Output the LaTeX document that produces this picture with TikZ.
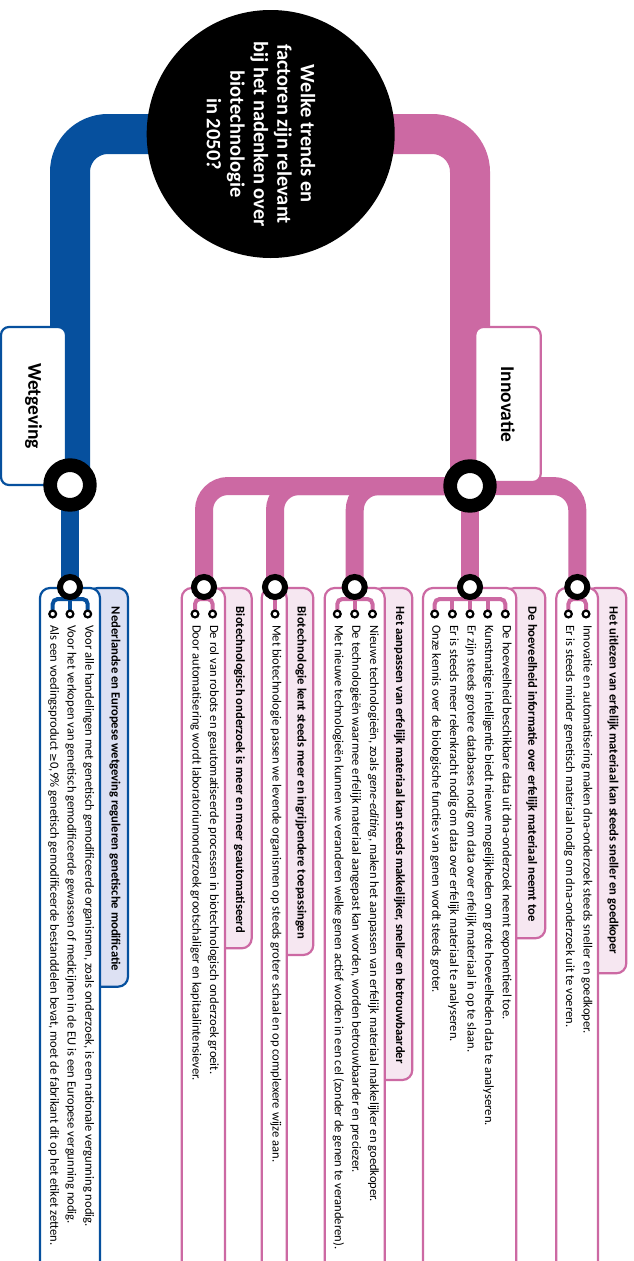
\documentclass[tikz,border=0pt]{standalone}
\usepackage{fontspec}
\setmainfont{Carlito}
\newfontfamily\symfont{DejaVu Sans}
\definecolor{pk}{HTML}{CC69A3}
\definecolor{bl}{HTML}{06509E}
\definecolor{pkfill}{HTML}{F6E7F1}
\definecolor{blfill}{HTML}{DDE1F3}
\pgfdeclarelayer{bg}
\pgfdeclarelayer{pipe}
\pgfdeclarelayer{box}
\pgfdeclarelayer{brk}
\pgfsetlayers{bg,pipe,box,brk,main}
\begin{document}
\begin{tikzpicture}[x=1pt,y=1pt,
  mainpipe/.style={line width=40pt, rounded corners=38pt},
  subpipe/.style={line width=18pt, rounded corners=24pt},
  bigring/.style={circle, draw=black, line width=13.7pt, fill=white, minimum size=39.7pt, inner sep=0pt},
  grpring/.style={circle, draw=black, line width=6pt, fill=white, minimum size=20pt, inner sep=0pt},
  bul/.style={circle, draw=black, line width=2.2pt, fill=white, minimum size=6.8pt, inner sep=0pt},
  brkline/.style={line width=4pt, rounded corners=5pt},
  itemtxt/.style={rotate=-90, anchor=mid west, inner sep=0pt, font=\fontsize{12.6}{15}\selectfont},
  headtxt/.style={rotate=-90, anchor=mid west, inner sep=0pt, font=\bfseries\fontsize{12.6}{15}\selectfont},
  hbox/.style={line width=2.2pt, rounded corners=10pt},
  wbox/.style={line width=2.2pt, rounded corners=10pt, fill=white},
  catbox/.style={rotate=-90, line width=2.2pt, fill=white, rounded corners=8pt, inner sep=0pt, font=\bfseries\fontsize{19.5}{22}\selectfont}
]
\useasboundingbox (0,0) rectangle (633,-1261);
\begin{pgfonlayer}{bg}
\fill[white] (0,0) rectangle (633,-1261);
\end{pgfonlayer}

% central question
\node[circle, fill=black, minimum size=248pt, inner sep=0pt] (q) at (270.7,-134) {};
\node[rotate=-90, text=white, align=center, inner sep=0pt,
      font=\bfseries\fontsize{20.5}{23.5}\selectfont] (qt) at (261,-134)
  {Welke trends en\\factoren zijn relevant\\bij het nadenken over\\biotechnologie\\in 2050?};

% category labels
\node[catbox, draw=bl, minimum width=158pt, minimum height=65pt] (wet) at (33.5,-406) {Wetgeving};
\node[catbox, draw=pk, minimum width=155pt, minimum height=65.4pt] (inn) at (508,-404.5) {Innovatie};

% junction rings
\node[bigring] (jw) at (70,-485) {};
\node[bigring] (ji) at (470,-486) {};

% group rings
\node[grpring] (g1) at (70,-587) {};
\node[grpring] (g2) at (204,-587) {};
\node[grpring] (g3) at (275,-587) {};
\node[grpring] (g4) at (354.7,-587) {};
\node[grpring] (g5) at (470,-587) {};
\node[grpring] (g6) at (577.3,-587) {};

% bracket knots
\coordinate (k1) at (70,-599);
\coordinate (k2) at (204,-599);
\coordinate (k4) at (354.7,-599);
\coordinate (k5) at (470,-599);
\coordinate (k6) at (577.3,-599);

% bullets
\node[bul] (b11) at (52.7,-614) {};
\node[bul] (b12) at (70,-614) {};
\node[bul] (b13) at (87.7,-614) {};
\node[bul] (b21) at (195,-614) {};
\node[bul] (b22) at (212.6,-614) {};
\node[bul] (b31) at (275,-614) {};
\node[bul] (b41) at (337.3,-614) {};
\node[bul] (b42) at (354.7,-614) {};
\node[bul] (b43) at (372.5,-614) {};
\node[bul] (b51) at (434.7,-614) {};
\node[bul] (b52) at (452.4,-614) {};
\node[bul] (b53) at (470,-614) {};
\node[bul] (b54) at (487.6,-614) {};
\node[bul] (b55) at (505.3,-614) {};
\node[bul] (b61) at (568.4,-614) {};
\node[bul] (b62) at (586,-614) {};

% headers
\node[headtxt] (h1) at (114,-606.7) {Nederlandse en Europese wetgeving reguleren genetische modificatie};
\node[headtxt] (h2) at (238.5,-606.7) {Biotechnologisch onderzoek is meer en meer geautomatiseerd};
\node[headtxt] (h3) at (300,-606.7) {Biotechnologie kent steeds meer en ingrijpendere toepassingen};
\node[headtxt] (h4) at (398.5,-606.7) {Het aanpassen van erfelijk materiaal kan steeds makkelijker, sneller en betrouwbaarder};
\node[headtxt] (h5) at (530.8,-606.7) {De hoeveelheid informatie over erfelijk materiaal neemt toe};
\node[headtxt] (h6) at (612,-606.7) {Het uitlezen van erfelijk materiaal kan steeds sneller en goedkoper};

% items
\node[itemtxt] (t13) at (87.7,-625) {Voor alle handelingen met genetisch gemodificeerde organismen, zoals onderzoek, is een nationale vergunning nodig.};
\node[itemtxt] (t12) at (70,-625) {Voor het verkopen van genetisch gemodificeerde gewassen of medicijnen in de EU is een Europese vergunning nodig.};
\node[itemtxt] (t11) at (52.7,-625) {Als een voedingsproduct {\symfont\fontsize{10.5}{12}\selectfont ≥}0,9\% genetisch gemodificeerde bestanddelen bevat, moet de fabrikant dit op het etiket zetten.};
\node[itemtxt] (t22) at (212.6,-625) {De rol van robots en geautomatiseerde processen in biotechnologisch onderzoek groeit.};
\node[itemtxt] (t21) at (195,-625) {Door automatisering wordt laboratoriumonderzoek grootschaliger en kapitaalintensiever.};
\node[itemtxt] (t31) at (275,-625) {Met biotechnologie passen we levende organismen op steeds grotere schaal en op complexere wijze aan.};
\node[itemtxt] (t43) at (372.5,-625) {Nieuwe technologieën, zoals \textit{gene-editing}, maken het aanpassen van erfelijk materiaal makkelijker en goedkoper.};
\node[itemtxt] (t42) at (354.7,-625) {De technologieën waarmee erfelijk materiaal aangepast kan worden, worden betrouwbaarder en preciezer.};
\node[itemtxt] (t41) at (337.3,-625) {Met nieuwe technologieën kunnen we veranderen welke genen actief worden in een cel (zonder de genen te veranderen).};
\node[itemtxt] (t55) at (505.3,-625) {De hoeveelheid beschikbare data uit dna-onderzoek neemt exponentieel toe.};
\node[itemtxt] (t54) at (487.6,-625) {Kunstmatige intelligentie biedt nieuwe mogelijkheden om grote hoeveelheden data te analyseren.};
\node[itemtxt] (t53) at (470,-625) {Er zijn steeds grotere databases nodig om data over erfelijk materiaal in op te slaan.};
\node[itemtxt] (t52) at (452.4,-625) {Er is steeds meer rekenkracht nodig om data over erfelijk materiaal te analyseren.};
\node[itemtxt] (t51) at (434.7,-625) {Onze kennis over de biologische functies van genen wordt steeds groter.};
\node[itemtxt] (t62) at (586,-625) {Innovatie en automatisering maken dna-onderzoek steeds sneller en goedkoper.};
\node[itemtxt] (t61) at (568.4,-625) {Er is steeds minder genetisch materiaal nodig om dna-onderzoek uit te voeren.};

% pipes
\begin{pgfonlayer}{pipe}
\draw[bl, mainpipe] (q.center) -| (jw.center);
\draw[pk, mainpipe] (q.center) -| (ji.center);
\draw[bl, line width=18pt] (jw.center) -- (g1.center);
\draw[pk, subpipe] (ji.center) -| (g2.center);
\draw[pk, subpipe] (ji.center) -| (g3.center);
\draw[pk, subpipe] (ji.center) -| (g4.center);
\draw[pk, line width=18pt] (ji.center) -- (g5.center);
\draw[pk, subpipe] (ji.center) -| (g6.center);
\end{pgfonlayer}

% boxes
\begin{pgfonlayer}{box}
\draw[hbox, draw=bl, fill=blfill] (88,-588) rectangle (128,-986.7);
\draw[wbox, draw=bl] (40,-588) rectangle (100,-1300);
\draw[hbox, draw=pk, fill=pkfill] (213,-588) rectangle (251.7,-948.3);
\draw[wbox, draw=pk] (181.7,-588) rectangle (225,-1300);
\draw[hbox, draw=pk, fill=pkfill] (275,-588) rectangle (313.3,-955);
\draw[wbox, draw=pk] (261.7,-588) rectangle (286.7,-1300);
\draw[hbox, draw=pk, fill=pkfill] (373,-588) rectangle (412.3,-1080);
\draw[wbox, draw=pk] (324.7,-588) rectangle (384.7,-1300);
\draw[hbox, draw=pk, fill=pkfill] (505,-588) rectangle (545.3,-938.3);
\draw[wbox, draw=pk] (423,-588) rectangle (516.3,-1300);
\draw[hbox, draw=pk, fill=pkfill] (586,-588) rectangle (626.3,-973.3);
\draw[wbox, draw=pk] (556.3,-588) rectangle (598,-1300);
\end{pgfonlayer}

% brackets
\begin{pgfonlayer}{brk}
\draw[bl, brkline] (b11.center) |- (k1) -| (b13.center);
\draw[bl, brkline] (g1.center) -- (b12.center);
\draw[pk, brkline] (b21.center) |- (k2) -| (b22.center);
\draw[pk, brkline] (g2.center) -- (k2);
\draw[pk, brkline] (g3.center) -- (b31.center);
\draw[pk, brkline] (b41.center) |- (k4) -| (b43.center);
\draw[pk, brkline] (g4.center) -- (b42.center);
\draw[pk, brkline] (b51.center) |- (k5) -| (b55.center);
\draw[pk, brkline] (g5.center) -- (b53.center);
\draw[pk, brkline] (b52.center) -- (b52.center |- k5);
\draw[pk, brkline] (b54.center) -- (b54.center |- k5);
\draw[pk, brkline] (b61.center) |- (k6) -| (b62.center);
\draw[pk, brkline] (g6.center) -- (k6);
\end{pgfonlayer}
\end{tikzpicture}
\end{document}
